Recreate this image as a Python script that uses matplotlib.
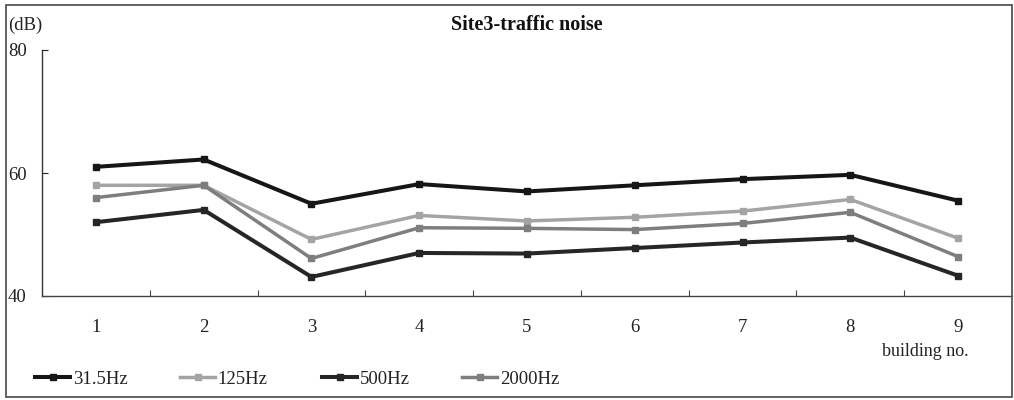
import matplotlib
matplotlib.use("Agg")
import matplotlib.pyplot as plt
from matplotlib.patches import Rectangle

buildings = [1, 2, 3, 4, 5, 6, 7, 8, 9]
s_31_5 = [61.0, 62.2, 55.0, 58.2, 57.0, 58.0, 59.0, 59.7, 55.5]
s_125 = [58.0, 58.0, 49.2, 53.1, 52.2, 52.8, 53.8, 55.7, 49.4]
s_500 = [52.0, 54.0, 43.1, 47.0, 46.9, 47.8, 48.7, 49.5, 43.3]
s_2000 = [56.0, 58.0, 46.1, 51.1, 51.0, 50.8, 51.8, 53.6, 46.4]
series_names = ["31.5Hz", "125Hz", "500Hz", "2000Hz"]
y_ticks = [40, 60, 80]

W, H = 1014, 400
fig = plt.figure(figsize=(W / 100, H / 100), dpi=100)
fig.patch.set_facecolor("white")
serif = ["Liberation Serif", "DejaVu Serif"]
plt.rcParams["font.family"] = serif

def fx(px):
    return px / W

def fy(py):
    return 1 - py / H

ax = fig.add_axes([fx(42), fy(296), fx(1012) - fx(42), fy(50) - fy(296)])
ax.set_xlim(0.5, 9.5)
ax.set_ylim(40, 80)

styles = [
    (s_31_5, "#161616", 2.9),
    (s_125, "#a4a4a4", 2.5),
    (s_500, "#262626", 2.9),
    (s_2000, "#7e7e7e", 2.5),
]
handles = []
for (vals, col, lw), name in zip(styles, series_names):
    h, = ax.plot(buildings, vals, color=col, lw=lw, marker="s", markersize=4.8,
                 markerfacecolor=col, markeredgecolor=col, label=name)
    handles.append(h)

for side in ["top", "right"]:
    ax.spines[side].set_visible(False)
ax.spines["left"].set_color("#333333")
ax.spines["left"].set_linewidth(1.0)
ax.spines["bottom"].set_color("#444444")
ax.spines["bottom"].set_linewidth(1.0)

ax.set_yticks(y_ticks)
ax.set_yticklabels([str(v) for v in y_ticks])
ax.tick_params(axis="y", direction="in", length=4, width=0.8, pad=24.5,
               labelsize=13.5, colors="#222222")
for lab in ax.get_yticklabels():
    lab.set_horizontalalignment("left")

ax.set_xticks([b + 0.5 for b in buildings[:-1]])
ax.set_xticklabels([])
ax.tick_params(axis="x", which="major", direction="in", length=4, width=0.8,
               colors="#444444")
ax.set_xticks(buildings, minor=True)
ax.set_xticklabels([str(b) for b in buildings], minor=True)
ax.tick_params(axis="x", which="minor", length=0, pad=16.5, labelsize=13.5,
               labelcolor="#222222")

fig.text(fx(527), fy(25), "Site3-traffic noise", ha="center", va="center",
         fontsize=14.5, fontweight="bold", color="#111111")
fig.text(fx(8), fy(25), "(dB)", ha="left", va="center", fontsize=13.5, color="#222222")
fig.text(fx(925), fy(351), "building no.", ha="center", va="center",
         fontsize=13, color="#222222")

leg_x = [35, 180, 322, 462]
for h, x in zip(handles, leg_x):
    lg = fig.legend(handles=[h], labels=[h.get_label()], loc="center left",
                    bbox_to_anchor=(fx(x), fy(379)), frameon=False,
                    fontsize=13.5, handlelength=1.87, handletextpad=0.15,
                    borderpad=0, borderaxespad=0, markerscale=0.9)
    for t in lg.get_texts():
        t.set_color("#222222")

fig.patches.append(Rectangle((fx(6), fy(397)), fx(1012) - fx(6), fy(5) - fy(397),
                             transform=fig.transFigure, fill=False,
                             edgecolor="#555555", linewidth=1.3))

fig.savefig("out.png", dpi=100, facecolor="white")
